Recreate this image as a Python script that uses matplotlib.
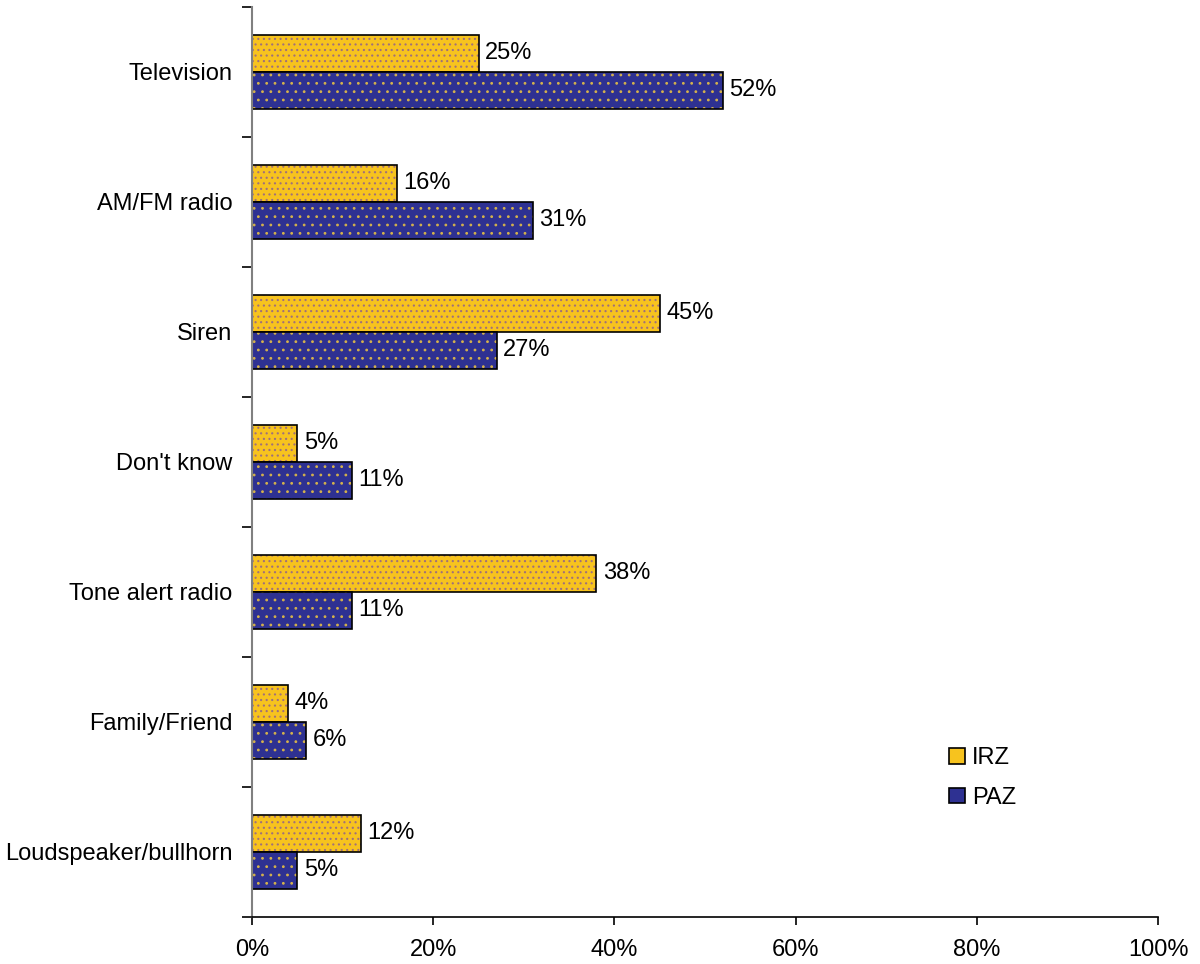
import numpy as np
import matplotlib.pyplot as plt
from matplotlib.patches import Patch

plt.rcParams['font.family'] = ['Liberation Sans', 'DejaVu Sans']
plt.rcParams['hatch.linewidth'] = 0.8

categories = ['Television', 'AM/FM radio', 'Siren', "Don't know",
              'Tone alert radio', 'Family/Friend', 'Loudspeaker/bullhorn']
irz = [25, 16, 45, 5, 38, 4, 12]
paz = [52, 31, 27, 11, 11, 6, 5]
series = ['IRZ', 'PAZ']

yellow, yellow_dot = '#F7C31E', '#A0707A'
blue, blue_dot = '#2E3192', '#D4B24C'
fs = 17

fig = plt.figure(figsize=(12, 9.64), dpi=100)
ax = fig.add_axes([0.21, 0.0488, 0.755, 0.944])

y = np.arange(len(categories))
h = 0.285

def draw(vals, offset, fc, dc, hatch):
    v = np.array(vals) / 100
    ax.barh(y + offset, v, height=h, color=fc, hatch=hatch, edgecolor=dc, linewidth=0)
    ax.barh(y + offset, v, height=h, fill=False, edgecolor='black', linewidth=1.2)
    for yi, vi, raw in zip(y, v, vals):
        ax.text(vi + 0.007, yi + offset, f'{raw}%', va='center', ha='left', fontsize=fs)

draw(irz, -h / 2, yellow, yellow_dot, '...')
draw(paz, h / 2, blue, blue_dot, '..')

ax.set_xlim(0, 1)
ax.set_ylim(len(categories) - 0.5, -0.5)
ax.set_xticks(np.linspace(0, 1, 6))
ax.set_xticklabels([f'{int(t)}%' for t in np.linspace(0, 100, 6)], fontsize=fs)
ax.tick_params(axis='x', length=6, width=1.2, pad=10)

ax.set_yticks(y)
ax.set_yticklabels(categories, fontsize=fs)
ax.set_yticks(np.arange(len(categories) + 1) - 0.5, minor=True)
ax.tick_params(axis='y', which='major', length=0, pad=14)
ax.tick_params(axis='y', which='minor', length=7, width=1.2)

ax.spines['top'].set_visible(False)
ax.spines['right'].set_visible(False)
ax.spines['left'].set_color('#808080')
ax.spines['left'].set_linewidth(1.5)
ax.spines['bottom'].set_linewidth(1.2)

handles = [Patch(facecolor=yellow, edgecolor='black', linewidth=1.2),
           Patch(facecolor=blue, edgecolor='black', linewidth=1.2)]
ax.legend(handles, series, loc='center left', bbox_to_anchor=(928 / 1200, 1 - 778 / 964),
          bbox_transform=fig.transFigure, frameon=False, fontsize=fs,
          handlelength=0.65, handleheight=0.65, handletextpad=0.3, labelspacing=0.75)

fig.savefig('out.png', dpi=100)
